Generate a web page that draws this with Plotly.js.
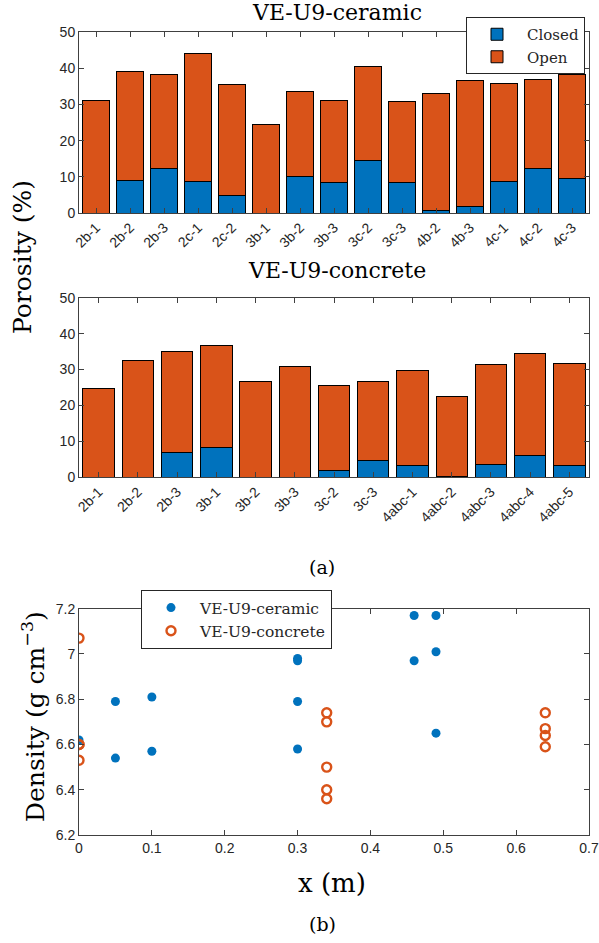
<!DOCTYPE html>
<html><head><meta charset="utf-8">
<script src="https://cdn.plot.ly/plotly-3.0.1.min.js"></script>
<style>html,body{margin:0;padding:0;background:#fff}#c{width:599px;height:943px}</style>
</head><body><div id="c"></div>
<script>
// Porosity, VE-U9-ceramic
const ceramicSamples = ['2b-1','2b-2','2b-3','2c-1','2c-2','3b-1','3b-2','3b-3','3c-2','3c-3','4b-2','4b-3','4c-1','4c-2','4c-3'];
const ceramicTotal  = [31.1,39.0,38.2,44.0,35.5,24.4,33.5,31.1,40.4,30.8,33.0,36.5,35.7,36.9,38.2];
const ceramicClosed = [0,9.0,12.3,8.8,4.7,0,10.0,8.5,14.4,8.4,0.6,1.9,8.6,12.2,9.5];
// Porosity, VE-U9-concrete
const concreteSamples = ['2b-1','2b-2','2b-3','3b-1','3b-2','3b-3','3c-2','3c-3','4abc-1','4abc-2','4abc-3','4abc-4','4abc-5'];
const concreteTotal  = [24.7,32.6,34.9,36.6,26.6,30.9,25.5,26.6,29.6,22.6,31.3,34.6,31.7];
const concreteClosed = [0,0,6.9,8.3,0,0,1.9,4.6,3.3,0.3,3.5,6.2,3.3];
// Density vs x
const ceramicX = [0,0.05,0.05,0.1,0.1,0.3,0.3,0.3,0.3,0.46,0.46,0.49,0.49,0.49];
const ceramicD = [6.62,6.79,6.54,6.81,6.57,6.98,6.97,6.79,6.58,7.17,6.97,7.17,7.01,6.65];
const concreteX = [0,0,0,0,0.34,0.34,0.34,0.34,0.34,0.64,0.64,0.64,0.64];
const concreteD = [7.07,6.60,6.60,6.53,6.74,6.70,6.50,6.40,6.36,6.74,6.67,6.64,6.59];

const BLUE='#0072BD', ORANGE='#D95319', AX='#404040';
const sans='Liberation Sans, Arial, sans-serif';
const serif='DejaVu Serif, Liberation Serif, serif';
const openC = ceramicTotal.map((t,i)=>+(t-ceramicClosed[i]).toFixed(2));
const openK = concreteTotal.map((t,i)=>+(t-concreteClosed[i]).toFixed(2));
const barLine={color:'#000',width:1};
const traces=[
 {type:'bar',x:ceramicSamples,y:ceramicClosed,name:'Closed',marker:{color:BLUE,line:barLine},xaxis:'x',yaxis:'y',width:0.8,legend:'legend'},
 {type:'bar',x:ceramicSamples,y:openC,name:'Open',marker:{color:ORANGE,line:barLine},xaxis:'x',yaxis:'y',width:0.8,legend:'legend'},
 {type:'bar',x:concreteSamples,y:concreteClosed,name:'Closed',showlegend:false,marker:{color:BLUE,line:barLine},xaxis:'x2',yaxis:'y2',width:0.8},
 {type:'bar',x:concreteSamples,y:openK,name:'Open',showlegend:false,marker:{color:ORANGE,line:barLine},xaxis:'x2',yaxis:'y2',width:0.8},
 {type:'scatter',mode:'markers',x:ceramicX,y:ceramicD,name:'VE-U9-ceramic',marker:{color:BLUE,size:9,symbol:'circle'},xaxis:'x3',yaxis:'y3',legend:'legend2'},
 {type:'scatter',mode:'markers',x:concreteX,y:concreteD,name:'VE-U9-concrete',marker:{color:ORANGE,size:9,symbol:'circle-open',line:{color:ORANGE,width:2.4}},xaxis:'x3',yaxis:'y3',legend:'legend2'}
];
const H=943, L=79, W=510;
const py=v=>1-v/H, px=v=>(v-L)/W;
const tf={family:sans,size:14,color:'#262626'};
const common={showline:true,linecolor:AX,linewidth:1,mirror:'ticks',ticks:'inside',ticklen:5,tickcolor:AX,showgrid:false,zeroline:false,tickfont:tf};
const ann=(text,x,y,size,angle)=>({text:text,xref:'paper',yref:'paper',x:px(x),y:py(y),xanchor:'center',yanchor:'middle',showarrow:false,textangle:angle||0,font:{family:serif,size:size,color:'#000'}});
const layout={
 width:599,height:H,margin:{l:L,r:599-L-W,t:0,b:0},paper_bgcolor:'#fff',plot_bgcolor:'#fff',
 barmode:'stack',bargap:0.2,
 xaxis:Object.assign({},common,{domain:[0,1],anchor:'y',type:'category',range:[-0.5,14.5],tickangle:-45,tickfont:{family:sans,size:14,color:'#262626'}}),
 yaxis:Object.assign({},common,{domain:[py(213),py(32)],anchor:'x',range:[0,50],dtick:10}),
 xaxis2:Object.assign({},common,{domain:[0,1],anchor:'y2',type:'category',range:[-0.5,12.5],tickangle:-45,tickfont:{family:sans,size:14,color:'#262626'}}),
 yaxis2:Object.assign({},common,{domain:[py(477.3),py(297.7)],anchor:'x2',range:[0,50],dtick:10}),
 xaxis3:Object.assign({},common,{domain:[0,1],anchor:'y3',range:[0,0.7],dtick:0.1}),
 yaxis3:Object.assign({},common,{domain:[py(835),py(608.7)],anchor:'x3',range:[6.2,7.2],dtick:0.2}),
 legend:{x:px(585),xanchor:'right',y:py(17),yanchor:'top',traceorder:'normal',itemwidth:50,bgcolor:'#fff',bordercolor:'#262626',borderwidth:1,font:{family:serif,size:15,color:'#262626'},tracegroupgap:0},
 legend2:{x:px(141),xanchor:'left',y:py(590),yanchor:'top',traceorder:'normal',itemwidth:48,bgcolor:'#fff',bordercolor:'#262626',borderwidth:1,font:{family:serif,size:15.5,color:'#262626'}},
 annotations:[
  ann('VE-U9-ceramic',337,13,22),
  ann('VE-U9-concrete',337,271,22),
  ann('Porosity (%)',22,257,25,-90),
  ann('(a)',322,567,19),
  ann('Density (g cm<sup>−3</sup>)',33,717,25,-90),
  ann('x (m)',332,883,26),
  ann('(b)',322,924,19)
 ]
};
Plotly.newPlot('c',traces,layout,{displayModeBar:false,staticPlot:true});
</script></body></html>
